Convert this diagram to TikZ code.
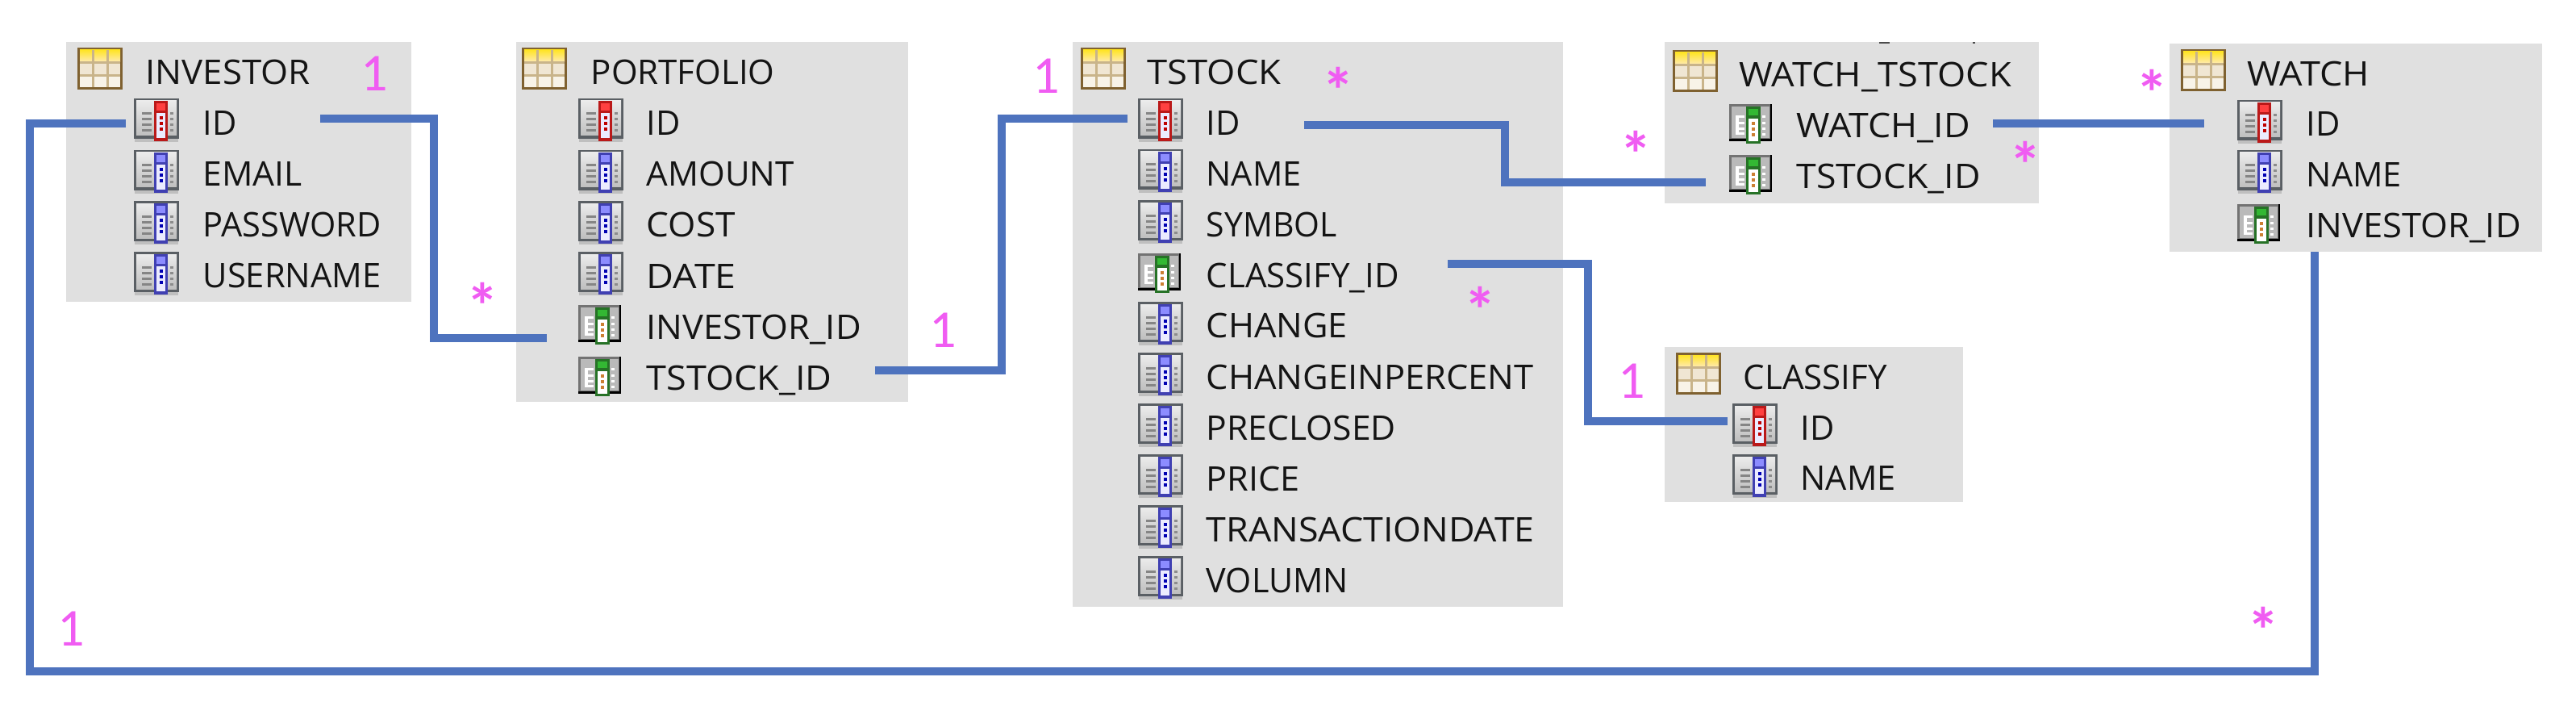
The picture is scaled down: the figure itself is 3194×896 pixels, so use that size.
\documentclass[tikz,border=0pt]{standalone}
\usepackage{graphicx}
\usepackage{fontspec}
\setmainfont{Open Sans}
\newfontfamily\cardfont{Carlito}
\definecolor{boxgray}{HTML}{E0E0E0}
\definecolor{linkblue}{HTML}{4E73BE}
\definecolor{cardpink}{HTML}{F05CF2}
\definecolor{tframe}{HTML}{7F6130}
\definecolor{tgrid}{HTML}{C9B48A}
\definecolor{frameg}{HTML}{5A5F64}
\definecolor{midcell}{HTML}{F0E6D3}
\definecolor{lowcell}{HTML}{F8F3E8}
\newlength\fwlen
\newcommand{\fw}[2]{\setlength\fwlen{\dimexpr#1pt+4pt\relax}\resizebox{\fwlen}{\height}{#2}}
\tikzset{
  x=1pt,y=-1pt,
  tablebox/.style={fill=boxgray,draw=none,anchor=north west,inner sep=0pt},
  coltext/.style={anchor=base west,inner sep=0pt,xshift=1.5pt,yshift=-0.5pt,font=\fontsize{42}{42}\selectfont,text=black!92},
  cardone/.style={anchor=base,inner sep=0pt,font=\cardfont\fontsize{66}{66}\selectfont,text=cardpink},
  cardmany/.style={anchor=center,inner sep=0pt,yshift=-14pt,font=\cardfont\bfseries\fontsize{80}{80}\selectfont,text=cardpink},
  link/.style={draw=linkblue,line width=10pt,line cap=butt,line join=miter},
}
% table icon, 56 x 52
\newcommand{\tableicon}[2]{\begin{scope}[shift={(#1,#2)}]
  \fill[tframe] (0,0) rectangle (56,52);
  \shade[top color=yellow!75!orange!85!white,bottom color=yellow!45!orange!30!white] (3,3) rectangle (53,18);
  \fill[midcell] (3,18) rectangle (53,34);
  \fill[lowcell] (3,34) rectangle (53,49);
  \fill[tgrid] (18,3) rectangle (21,49);
  \fill[tgrid] (36,3) rectangle (39,49);
  \fill[tgrid] (3,17) rectangle (53,20);
  \fill[tgrid] (3,33) rectangle (53,36);
\end{scope}}
% plain column icon, 56 x 50, strap colours as arguments
\newcommand{\colicon}[5]{\begin{scope}[shift={(#1,#2)}]
  \fill[black!25] (1,50) rectangle (55,54);
  \fill[frameg] (0,0) rectangle (56,50);
  \shade[top color=white!92!black,bottom color=black!25] (3,3) rectangle (53,46);
  \foreach \yy in {19,26,33,40}{
    \fill[black!48] (10,\yy-1.5) rectangle (22,\yy+1.5);
    \fill[black!45] (45,\yy-1.5) rectangle (49,\yy+1.5);
  }
  \fill[#3] (25,3) rectangle (42,53);
  \fill[#4] (28,6) rectangle (39,15);
  \fill[white!92!blue] (28,18) rectangle (39,49);
  \foreach \yy in {24,31,38}{\fill[#5] (31.5,\yy-1.7) rectangle (35.5,\yy+1.7);}
\end{scope}}
% foreign-key column icon, 53 x 45
\newcommand{\fkicon}[2]{\begin{scope}[shift={(#1,#2)}]
  \fill[black] (0,0) rectangle (53,46);
  \fill[black!55] (0,0) rectangle (51,43);
  \fill[black!27] (3,3) rectangle (50,42);
  \fill[white] (8,14) rectangle (12,37);
  \foreach \yy in {14,22,29,35}{\fill[white] (8,\yy) rectangle (19,\yy+3);}
  \foreach \yy in {14,22,29,36}{\fill[white] (41,\yy) rectangle (45,\yy+3);}
  \fill[green!35!black!85] (21,3) rectangle (39,49);
  \fill[green!65!black!80!white] (24,6) rectangle (36,14);
  \fill[white] (24,18) rectangle (36,46);
  \foreach \yy in {24,31,38}{\fill[brown!80!orange] (28,\yy-1.7) rectangle (32,\yy+1.7);}
\end{scope}}
\newcommand{\pk}[2]{\colicon{#1}{#2}{red!70!black!90}{red!75!white}{red!75!black}}
\newcommand{\pl}[2]{\colicon{#1}{#2}{blue!60!black!75!white}{blue!45!white}{blue!70!black}}
\begin{document}
\begin{tikzpicture}
\useasboundingbox (0,0) rectangle (3194,896);
\fill[white] (0,0) rectangle (3194,896);
% boxes
\node[tablebox,minimum width=428pt,minimum height=322pt] (investor) at (82,52) {};
\node[tablebox,minimum width=486pt,minimum height=446pt] (portfolio) at (640,52) {};
\node[tablebox,minimum width=608pt,minimum height=700pt] (tstock) at (1330,52) {};
\node[tablebox,minimum width=464pt,minimum height=200pt] (watchtstock) at (2064,52) {};
\node[tablebox,minimum width=462pt,minimum height=258pt] (watch) at (2690,54) {};
\node[tablebox,minimum width=370pt,minimum height=192pt] (classify) at (2064,430) {};
% cropped descenders at the top of WATCH_TSTOCK
\fill[black!70] (2330,52) rectangle (2343,54);
\fill[black!70] (2446,52) rectangle (2449,54);
% INVESTOR
\tableicon{96}{59}
\pk{166}{122}\pl{166}{186}\pl{166}{249}\pl{166}{312}
\node[coltext] (tInvestor) at (179,104) {\fw{200}{INVESTOR}};
\node[coltext] (invId) at (250,167) {\fw{38}{ID}};
\node[coltext] (invEmail) at (250,230) {\fw{119}{EMAIL}};
\node[coltext] (invPass) at (250,293) {\fw{217}{PASSWORD}};
\node[coltext] (invUser) at (250,356) {\fw{217}{USERNAME}};
% PORTFOLIO
\tableicon{647}{59}
\pk{717}{122}\pl{717}{186}\pl{717}{249}\pl{717}{312}\fkicon{717}{378}\fkicon{717}{442}
\node[coltext] (tPortfolio) at (731,104) {\fw{224}{PORTFOLIO}};
\node[coltext] (porId) at (800,167) {\fw{38}{ID}};
\node[coltext] (porAmount) at (800,230) {\fw{179}{AMOUNT}};
\node[coltext] (porCost) at (800,293) {\fw{106}{COST}};
\node[coltext] (porDate) at (800,357) {\fw{107}{DATE}};
\node[coltext] (porInv) at (800,420) {\fw{262}{INVESTOR\_ID}};
\node[coltext] (porStock) at (800,483) {\fw{226}{TSTOCK\_ID}};
% TSTOCK
\tableicon{1340}{59}
\pk{1411}{122}\pl{1411}{185}\pl{1411}{248}\fkicon{1411}{314}\pl{1411}{374}\pl{1411}{437}\pl{1411}{500}\pl{1411}{563}\pl{1411}{626}\pl{1411}{689}
\node[coltext] (tStock) at (1421,104) {\fw{162}{TSTOCK}};
\node[coltext] (stoId) at (1494,167) {\fw{38}{ID}};
\node[coltext] (stoName) at (1494,230) {\fw{114}{NAME}};
\node[coltext] (stoSymbol) at (1494,293) {\fw{158}{SYMBOL}};
\node[coltext] (stoClass) at (1494,356) {\fw{235}{CLASSIFY\_ID}};
\node[coltext] (stoChange) at (1494,418) {\fw{171}{CHANGE}};
\node[coltext] (stoPct) at (1494,482) {\fw{402}{CHANGEINPERCENT}};
\node[coltext] (stoPre) at (1494,545) {\fw{231}{PRECLOSED}};
\node[coltext] (stoPrice) at (1494,608) {\fw{112}{PRICE}};
\node[coltext] (stoDate) at (1494,671) {\fw{403}{TRANSACTIONDATE}};
\node[coltext] (stoVol) at (1494,734) {\fw{172}{VOLUMN}};
% WATCH_TSTOCK
\tableicon{2074}{62}
\fkicon{2144}{129}\fkicon{2144}{192}
\node[coltext] (tWatchStock) at (2155,107) {\fw{333}{WATCH\_TSTOCK}};
\node[coltext] (wsWatch) at (2226,170) {\fw{211}{WATCH\_ID}};
\node[coltext] (wsStock) at (2226,233) {\fw{224}{TSTOCK\_ID}};
% WATCH
\tableicon{2704}{61}
\pk{2774}{124}\pl{2774}{186}\fkicon{2774}{253}
\node[coltext] (tWatch) at (2785,106) {\fw{147}{WATCH}};
\node[coltext] (watId) at (2858,168) {\fw{38}{ID}};
\node[coltext] (watName) at (2858,231) {\fw{114}{NAME}};
\node[coltext] (watInv) at (2858,294) {\fw{262}{INVESTOR\_ID}};
% CLASSIFY
\tableicon{2078}{437}
\pk{2148}{500}\pl{2148}{563}
\node[coltext] (tClassify) at (2160,482) {\fw{174}{CLASSIFY}};
\node[coltext] (claId) at (2231,545) {\fw{38}{ID}};
\node[coltext] (claName) at (2231,607) {\fw{114}{NAME}};
% connector ends
\coordinate (a1) at (397,147); \coordinate (a2) at (678,419);
\coordinate (b1) at (1085,459); \coordinate (b2) at (1398,147);
\coordinate (c1) at (1617,155); \coordinate (c2) at (2115,226);
\coordinate (d1) at (1795,327); \coordinate (d2) at (2142,522);
\coordinate (e1) at (2471,153); \coordinate (e2) at (2733,153);
\coordinate (f1) at (156,153); \coordinate (f2) at (2870,312);
\draw[link] (a1) -- (537.5,147) -- (537.5,419) -- (a2);
\draw[link] (b1) -- (1242,459) -- (1242,147) -- (b2);
\draw[link] (c1) -- (1866,155) -- (1866,226) -- (c2);
\draw[link] (d1) -- (1969,327) -- (1969,522) -- (d2);
\draw[link] (e1) -- (e2);
\draw[link] (f1) -- (37,153) -- (37,832) -- (2870,832) -- (f2);
% cardinalities
\node[cardone] (n1) at (464,113) {1};
\node[cardmany] (m1) at (598,365) {*};
\node[cardone] (n2) at (1169,430) {1};
\node[cardone] (n3) at (1297,116) {1};
\node[cardmany] (m2) at (1659,98) {*};
\node[cardmany] (m3) at (2028,177) {*};
\node[cardmany] (m4) at (2511,190) {*};
\node[cardmany] (m5) at (2668,101) {*};
\node[cardmany] (m6) at (1835,370) {*};
\node[cardone] (n4) at (2023,493) {1};
\node[cardone] (n5) at (88,800) {1};
\node[cardmany] (m7) at (2806,767) {*};
\end{tikzpicture}
\end{document}
